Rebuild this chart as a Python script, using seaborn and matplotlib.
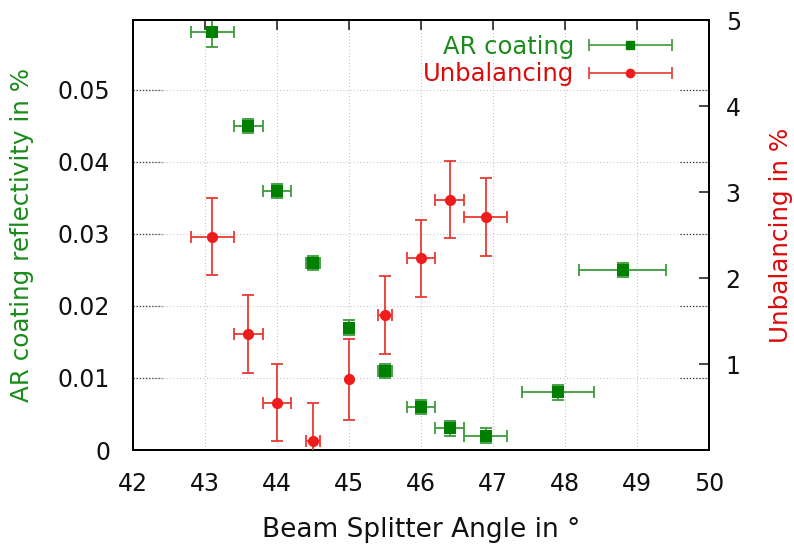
import numpy as np
import pandas as pd
import matplotlib
matplotlib.use("Agg")
import matplotlib.pyplot as plt
from matplotlib.legend_handler import HandlerErrorbar
from matplotlib.container import ErrorbarContainer
import seaborn as sns

# ---- data ----
ar_angle = [43.1, 43.6, 44.0, 44.5, 45.0, 45.5, 46.0, 46.4, 46.9, 47.9, 48.8]
ar_angle_err = [0.3, 0.2, 0.2, 0.1, 0.05, 0.1, 0.2, 0.2, 0.3, 0.5, 0.6]
ar_refl = [0.058, 0.045, 0.036, 0.026, 0.017, 0.011, 0.006, 0.003, 0.002, 0.008, 0.025]
ar_refl_err = [0.002, 0.001, 0.001, 0.001, 0.001, 0.001, 0.001, 0.001, 0.001, 0.001, 0.001]

ub_angle = [43.1, 43.6, 44.0, 44.5, 45.0, 45.5, 46.0, 46.4, 46.9]
ub_angle_err = [0.3, 0.2, 0.2, 0.1, 0.0, 0.1, 0.2, 0.2, 0.3]
ub_val = [2.48, 1.35, 0.55, 0.10, 0.82, 1.57, 2.23, 2.91, 2.71]
ub_val_err = [0.45, 0.45, 0.45, 0.45, 0.47, 0.45, 0.45, 0.45, 0.45]

x_ticks = [42, 43, 44, 45, 46, 47, 48, 49, 50]
left_ticks = [0, 0.01, 0.02, 0.03, 0.04, 0.05]
left_tick_labels = ["0", "0.01", "0.02", "0.03", "0.04", "0.05"]
right_ticks = [1, 2, 3, 4, 5]

ar_df = pd.DataFrame({"angle": ar_angle, "refl": ar_refl})
ub_df = pd.DataFrame({"angle": ub_angle, "val": ub_val})

# ---- style ----
sns.set_theme(style="white")
plt.rcParams["font.family"] = ["DejaVu Sans"]

GREEN = "#008000"
GREEN_BAR = "#3c9c3c"
RED = "#ee1c1c"
RED_BAR = "#e83a30"
GREEN_TXT = "#1a8c1a"
RED_TXT = "#dd0a0a"
TXT = "#111111"

fig = plt.figure(figsize=(7.94, 5.47), dpi=100)
ax = fig.add_axes([133 / 794, 97 / 547, (709 - 133) / 794, (450 - 20) / 547])
ax2 = ax.twinx()

ax.set_xlim(42, 50)
ax.set_ylim(0, 0.0597)
ax2.set_ylim(0, 5)
ax2.set_xlim(42, 50)

# grid (gray dotted)
for xv in x_ticks[1:-1]:
    ax.axvline(xv, color="#c8c8c8", lw=0.8, ls=(0, (1, 2)), zorder=0)
for yv in left_ticks[1:]:
    ax.axhline(yv, color="#c8c8c8", lw=0.8, ls=(0, (1, 2)), zorder=0)
    ax.plot([0, 0.05], [yv, yv], transform=ax.get_yaxis_transform(),
            color="#333333", lw=0.9, ls=(0, (1, 1.5)), zorder=1)
    ax.plot([0.95, 1.0], [yv, yv], transform=ax.get_yaxis_transform(),
            color="#333333", lw=0.9, ls=(0, (1, 1.5)), zorder=1)

# AR coating
ax.errorbar(ar_angle, ar_refl, xerr=ar_angle_err, yerr=ar_refl_err, fmt="none",
            ecolor=GREEN_BAR, elinewidth=1.3, capsize=4.5, capthick=1.3, zorder=3)
sns.scatterplot(data=ar_df, x="angle", y="refl", ax=ax, marker="s", s=70,
                color=GREEN, edgecolor=GREEN, linewidth=0, zorder=4, legend=False)

# Unbalancing
ax2.errorbar(ub_angle, ub_val, xerr=ub_angle_err, yerr=ub_val_err, fmt="none",
             ecolor=RED_BAR, elinewidth=1.3, capsize=4.5, capthick=1.3, zorder=3)
sns.scatterplot(data=ub_df, x="angle", y="val", ax=ax2, marker="o", s=65,
                color=RED, edgecolor=RED, linewidth=0, zorder=4, legend=False)

# ticks
ax.set_xticks(x_ticks)
ax.set_xticklabels([str(t) for t in x_ticks], fontsize=17, color=TXT)
ax.set_yticks(left_ticks)
ax.set_yticklabels(left_tick_labels, fontsize=17, color=TXT)
ax.tick_params(axis="x", direction="in", length=7, width=1.2, top=True, pad=16)
ax.tick_params(axis="y", direction="in", length=0, pad=16.5)
ax2.set_yticks(right_ticks)
ax2.set_yticklabels([str(t) for t in right_ticks], fontsize=17, color=TXT)
ax2.tick_params(axis="y", direction="in", length=7, width=1.2, pad=12)

for a in (ax, ax2):
    for sp in a.spines.values():
        sp.set_color("black")
        sp.set_linewidth(1.4)

ax.set_xlabel("Beam Splitter Angle in °", fontsize=19, color=TXT, labelpad=15)
ax.set_ylabel("AR coating reflectivity in %", fontsize=17.7, color=GREEN_TXT, labelpad=17)
ax2.set_ylabel("Unbalancing in %", fontsize=17.7, color=RED_TXT, labelpad=20)

# legend with proxy error bars
h1 = ax.errorbar([np.nan], [np.nan], xerr=[1], fmt="s", ms=6, color=GREEN,
                 ecolor=GREEN_BAR, elinewidth=1.2, capsize=4, capthick=1.2)
h2 = ax.errorbar([np.nan], [np.nan], xerr=[1], fmt="o", ms=6, color=RED,
                 ecolor=RED_BAR, elinewidth=1.2, capsize=4, capthick=1.2)
leg = ax2.legend([h1, h2], ["AR coating", "Unbalancing"], loc="upper right",
                 bbox_to_anchor=(0.9626, 1.0), frameon=False, markerfirst=False,
                 fontsize=17.5, handlelength=3.5, handletextpad=0.55,
                 labelspacing=0.15, borderaxespad=0.2,
                 handler_map={ErrorbarContainer: HandlerErrorbar(xerr_size=1.72)})
for txt, c in zip(leg.get_texts(), [GREEN_TXT, RED_TXT]):
    txt.set_color(c)

fig.savefig("out.png", dpi=100)
